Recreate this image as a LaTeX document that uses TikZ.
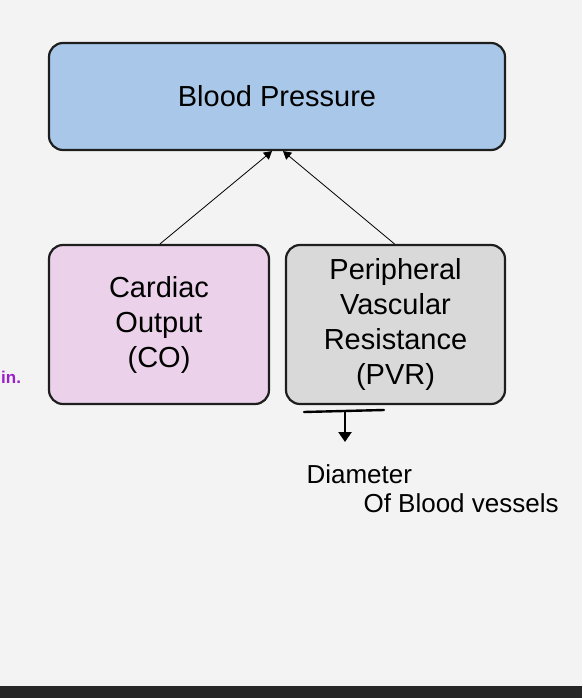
\documentclass[tikz,border=0pt]{standalone}
\usepackage{fontspec}
\setmainfont{Liberation Sans}
\usetikzlibrary{arrows.meta, positioning}
\definecolor{cbg}{HTML}{F3F3F3}
\definecolor{cblue}{HTML}{A9C8E9}
\definecolor{cpink}{HTML}{EBD2EA}
\definecolor{cgrey}{HTML}{D9D9D9}
\definecolor{cedge}{HTML}{1E1E1E}
\definecolor{cbar}{HTML}{262626}
\definecolor{cpurple}{HTML}{9A1FC8}
\tikzset{
  every picture/.style={x=1pt, y=-1pt},
  box/.style={draw=cedge, fill=#1, line width=2.2pt, rounded corners=14pt, align=center,
    font=\fontsize{29}{35}\selectfont, inner sep=0pt},
  box/.default=cgrey,
  arrow/.style={-{Triangle[length=8pt, width=9pt]}, draw=black, line width=0.8pt},
  hand/.style={draw=black, line width=2.4pt, line cap=round},
  scrawl/.style={font=\fontsize{26}{28}\selectfont, anchor=west},
}
\begin{document}
\begin{tikzpicture}
  \clip (0,0) rectangle (582,698);
  \fill[cbg] (0,0) rectangle (582,698);
  \fill[cbar] (0,686) rectangle (582,698);
  % boxes
  \node[box=cblue, minimum width=456pt, minimum height=107pt] (bp) at (277,96.5) {Blood Pressure};
  \node[box=cpink, minimum width=220pt, minimum height=159pt] (co) at (159,324.5) {Cardiac\\Output\\(CO)};
  \node[box=cgrey, minimum width=219pt, minimum height=159pt] (pvr) at (395.5,324.5) {Peripheral\\Vascular\\Resistance\\(PVR)};
  % connectors
  \draw[arrow] (co.north) ++(1pt,0) -- ([xshift=-5pt]bp.south);
  \draw[arrow] (pvr.north) ++(-1pt,0) -- ([xshift=6pt]bp.south);
  % handwritten note
  \coordinate (lnA) at (304,412);
  \coordinate (lnB) at (384,410);
  \coordinate (lnC) at (345,411);
  \coordinate (lnD) at (345,442);
  \draw[hand] (lnA) -- (lnB);
  \draw[hand, -{Triangle[length=10pt, width=13pt]}] (lnC) -- (lnD);
  \node[scrawl] (dia) at (303,474) {Diameter};
  \node[scrawl] (bv) at (360,503) {Of Blood vessels};
  \node[font=\bfseries\fontsize{17}{20}\selectfont, text=cpurple, anchor=west, inner sep=0pt] (edge) at (1,377) {in.};
\end{tikzpicture}
\end{document}
